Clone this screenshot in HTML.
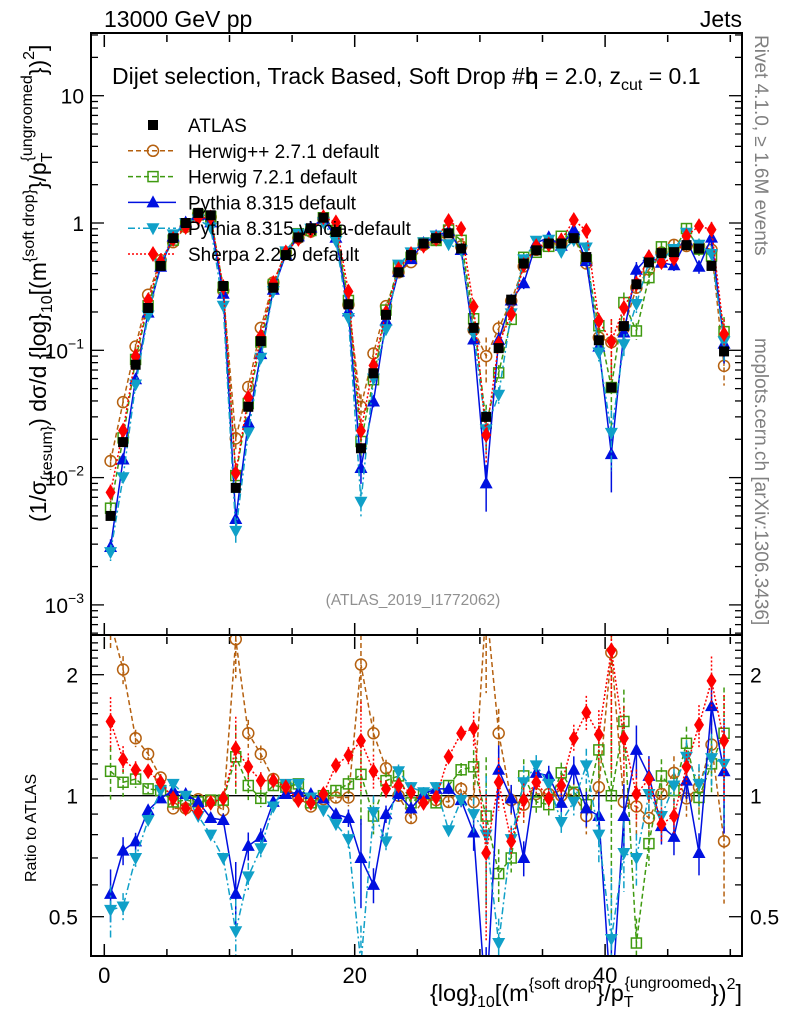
<!DOCTYPE html>
<html><head><meta charset="utf-8"><style>
html,body{margin:0;padding:0;width:786px;height:1024px;overflow:hidden;background:#fff}
svg{display:block;overflow:hidden;position:absolute;left:0;top:0;font-family:"Liberation Sans",sans-serif}
</style></head><body>
<svg id="c" width="786" height="1024" viewBox="0 0 786 1024">
<defs>
<clipPath id="cm"><rect x="91" y="33" width="651" height="602"/></clipPath>
<clipPath id="cr"><rect x="91" y="635" width="651" height="321"/></clipPath>
</defs>
<text x="104" y="27" font-size="23">13000 GeV pp</text>
<text x="742" y="27" font-size="23" text-anchor="end">Jets</text>
<text x="112" y="84" font-size="23">Dijet selection, Track Based, Soft Drop #b<tspan dx="-12">η = 2.0, z</tspan><tspan font-size="16" dy="6">cut</tspan><tspan dy="-6"> = 0.1</tspan></text>
<text x="413" y="605" font-size="15.5" fill="#909090" text-anchor="middle">(ATLAS_2019_I1772062)</text>
<text transform="translate(755,35) rotate(90)" font-size="19" fill="#808080">Rivet 4.1.0, ≥ 1.6M events</text>
<text transform="translate(755,338) rotate(90)" font-size="19" fill="#808080">mcplots.cern.ch [arXiv:1306.3436]</text>
<text transform="translate(46,522) rotate(-90)" font-size="23">(1/σ<tspan font-size="16" dy="6">{resum}</tspan><tspan dy="-6">) dσ/d {log}</tspan><tspan font-size="16" dy="6">10</tspan><tspan dy="-6">[(m</tspan><tspan font-size="16" dy="-12">{soft drop}</tspan><tspan dy="12">}/p</tspan><tspan font-size="16" dy="6">T</tspan><tspan font-size="16" dy="-20" dx="-9">{ungroomed</tspan><tspan dy="14">})</tspan><tspan font-size="16" dy="-12">2</tspan><tspan dy="12">]</tspan></text>
<text transform="translate(36,882) rotate(-90)" font-size="16">Ratio to ATLAS</text>
<text x="742" y="1001" font-size="23.5" text-anchor="end">{log}<tspan font-size="16" dy="6">10</tspan><tspan dy="-6">[(m</tspan><tspan font-size="16" dy="-12">{soft drop</tspan><tspan dy="12">}/p</tspan><tspan font-size="16" dy="6">T</tspan><tspan font-size="16" dy="-19" dx="-9">{ungroomed</tspan><tspan dy="13">})</tspan><tspan font-size="16" dy="-12">2</tspan><tspan dy="12">]</tspan></text>
<g id="axes"></g>
<g id="main" clip-path="url(#cm)"></g>
<g id="ratio" clip-path="url(#cr)"></g>
<g id="legend"></g>
<rect x="91" y="33" width="651" height="602" fill="none" stroke="#000" stroke-width="2"/>
<rect x="91" y="635" width="651" height="321" fill="none" stroke="#000" stroke-width="2"/>
</svg>
<script>
const atlas=[0.005,0.019,0.077,0.215,0.46,0.76,1.0,1.2,1.15,0.32,0.0083,0.036,0.118,0.31,0.56,0.77,0.91,1.1,0.85,0.23,0.017,0.066,0.19,0.41,0.56,0.69,0.76,0.83,0.63,0.15,0.03,0.104,0.25,0.48,0.61,0.69,0.69,0.76,0.54,0.12,0.051,0.155,0.33,0.49,0.58,0.59,0.67,0.63,0.46,0.098];
const rHerwigPP=[2.7,2.06,1.39,1.27,1.11,0.93,0.93,0.98,0.97,0.92,2.45,1.43,1.27,1.10,1.05,0.99,0.94,0.98,0.99,0.99,2.12,1.43,1.17,1.0,0.88,0.975,0.975,0.965,1.04,0.965,3.0,1.43,0.975,0.95,1.01,1.01,1.0,1.01,0.89,1.05,2.27,0.965,0.94,0.88,1.01,1.14,0.985,1.05,1.34,0.77];
const rHerwig7=[1.15,1.08,1.10,1.04,1.03,0.965,0.975,0.965,0.975,0.975,1.25,1.06,0.985,1.06,1.05,1.07,0.96,1.0,1.03,1.07,1.13,0.89,1.09,1.12,0.96,1.01,0.96,1.06,1.16,1.18,0.89,0.64,0.70,1.12,0.965,0.95,1.14,1.02,0.95,1.30,1.0,1.53,0.43,0.76,1.12,1.03,1.35,0.99,1.2,1.43];
const rPythia=[0.57,0.73,0.77,0.92,0.985,1.03,1.01,0.965,0.88,0.87,0.57,0.75,0.79,0.965,1.01,1.02,1.01,0.985,0.90,0.88,0.70,0.60,0.90,1.01,0.93,1.01,1.04,1.04,0.975,0.81,0.3,1.16,0.985,0.70,1.14,1.12,0.96,1.16,0.93,0.89,0.3,0.89,1.30,1.12,0.84,0.79,1.09,0.72,1.67,1.15];
const rVincia=[0.52,0.53,0.70,0.87,1.03,1.07,1.0,0.89,0.80,0.70,0.46,0.63,0.74,0.94,1.07,1.07,0.99,0.92,0.85,0.78,0.38,0.91,0.77,1.15,1.05,1.02,1.05,0.82,0.975,0.90,0.8,0.43,0.78,1.08,1.19,1.07,0.86,0.965,1.19,0.80,0.44,0.72,0.70,1.01,0.89,1.06,1.25,1.07,1.24,1.2];
const rSherpa=[1.53,1.23,1.16,1.15,1.08,0.985,0.93,0.91,0.96,0.985,1.31,1.18,1.09,1.09,1.05,0.975,0.96,1.01,1.19,1.26,1.37,1.15,1.04,1.06,1.02,0.96,0.99,1.25,1.43,1.47,0.72,1.08,0.77,0.975,1.08,0.985,1.06,1.39,1.61,1.42,2.3,1.39,1.01,1.10,0.85,0.89,1.18,1.50,1.93,1.37];
const relErr=[0.15,0.08,0.05,0.03,0.02,0.02,0.02,0.02,0.02,0.03,0.2,0.08,0.05,0.03,0.02,0.02,0.02,0.02,0.03,0.05,0.25,0.1,0.05,0.04,0.03,0.03,0.03,0.03,0.04,0.1,0.4,0.15,0.08,0.1,0.06,0.06,0.06,0.08,0.1,0.15,0.5,0.2,0.15,0.12,0.1,0.1,0.1,0.12,0.15,0.3];
const xTickLabels=[0,20,40];
const mainTickExps=[1,0,-1,-2,-3];
const ratioTickLabels=[2,1,0.5];

const NS="http://www.w3.org/2000/svg";
const X=v=>104.3+12.52*v;
const YM=v=>223-127.3*Math.log10(v);
const YR=v=>795.7-121*Math.log2(v);
const clampY=(y,lo,hi)=>Math.min(hi,Math.max(lo,y));
function el(tag,attrs,parent){const e=document.createElementNS(NS,tag);for(const k in attrs)e.setAttribute(k,attrs[k]);parent.appendChild(e);return e;}
const axes=document.getElementById('axes'),gm=document.getElementById('main'),gr=document.getElementById('ratio'),gl=document.getElementById('legend');

for(let v=0;v<=50;v+=5){const major=v%20===0;const L=major?12:7;
 [[35,635],[637,956]].forEach(([t,b])=>{
  let a=el('line',{x1:X(v),x2:X(v),y1:t,y2:t+L,stroke:'#000','stroke-width':1.5},axes);
  
  let c=el('line',{x1:X(v),x2:X(v),y1:b-L,y2:b,stroke:'#000','stroke-width':1.5},axes);
  });}
xTickLabels.forEach(v=>{const t=el('text',{x:X(v),y:983,'font-size':22,'text-anchor':'middle'},axes);t.textContent=v;
 });
for(let e=-4;e<=1;e++){for(let m=1;m<10;m++){const v=m*Math.pow(10,e);const y=YM(v);if(y<34||y>634)continue;const L=m===1?13:7;
 let a=el('line',{x1:91,x2:91+L,y1:y,y2:y,stroke:'#000','stroke-width':1.3},axes);
 let b=el('line',{x1:742-L,x2:742,y1:y,y2:y,stroke:'#000','stroke-width':1.3},axes);}}
mainTickExps.forEach(e=>{const y=YM(Math.pow(10,e))+8;let t;
 t=el('text',{x:84,y:y,'font-size':21,'text-anchor':'end'},axes);
 if(e===1){t.textContent='10';}
 else if(e===0){t.textContent='1';}
 else{const a=el('tspan',{},t);a.textContent='10';const s=el('tspan',{'font-size':14,dy:-10},t);s.textContent='−'+(-e);}
 });
[0.4,0.5,0.6,0.7,0.8,0.9,1,1.1,1.2,1.3,1.4,1.5,1.6,1.7,1.8,1.9,2,2.1,2.2,2.3,2.4,2.5].forEach(v=>{const y=YR(v);if(y<636||y>955)return;const L=(v===1||v===2||v===0.5)?13:7;
 let a=el('line',{x1:91,x2:91+L,y1:y,y2:y,stroke:'#000','stroke-width':1.3},axes);
 let b=el('line',{x1:742-L,x2:742,y1:y,y2:y,stroke:'#000','stroke-width':1.3},axes);});
ratioTickLabels.forEach(v=>{[[78,'end'],[750,'start']].forEach(([x,a])=>{const t=el('text',{x:x,y:YR(v)+8,'font-size':21,'text-anchor':a},axes);t.textContent=v;
 });});
const one=el('line',{x1:91,x2:742,y1:YR(1),y2:YR(1),stroke:'#000','stroke-width':1.3},axes);


function marker(g,kind,x,y,color){let m;
 if(kind==='sq')m=el('rect',{x:x-5,y:y-5,width:10,height:10,fill:'#000'},g);
 else if(kind==='osq')m=el('rect',{x:x-5,y:y-5,width:10,height:10,fill:'none',stroke:color,'stroke-width':1.5},g);
 else if(kind==='oc')m=el('circle',{cx:x,cy:y,r:5.5,fill:'none',stroke:color,'stroke-width':1.5},g);
 else if(kind==='tu')m=el('polygon',{points:`${x},${y-7} ${x-6.5},${y+5} ${x+6.5},${y+5}`,fill:color},g);
 else if(kind==='td')m=el('polygon',{points:`${x},${y+7} ${x-6.5},${y-5} ${x+6.5},${y-5}`,fill:color},g);
 else m=el('polygon',{points:`${x},${y-8} ${x-5},${y} ${x},${y+8} ${x+5},${y}`,fill:color},g);
 return m;}

const series=[
 {name:'herwigpp',label:'Herwig++ 2.7.1 default',r:rHerwigPP,color:'#b5600f',dash:'5,3',kind:'oc'},
 {name:'herwig7',label:'Herwig 7.2.1 default',r:rHerwig7,color:'#3f9a10',dash:'5,3',kind:'osq'},
 {name:'pythia',label:'Pythia 8.315 default',r:rPythia,color:'#0010e0',dash:'',kind:'tu'},
 {name:'vincia',label:'Pythia 8.315 vincia-default',r:rVincia,color:'#10a0c8',dash:'7,3,2,3',kind:'td'},
 {name:'sherpa',label:'Sherpa 2.2.9 default',r:rSherpa,color:'#ff0000',dash:'2,2',kind:'dm'}];

function drawSeries(g,vals,Y,s,panel,lo,hi){
 const pts=vals.map((v,i)=>X(i+0.5)+','+Y(v)).join(' ');
 const pl=el('polyline',{points:pts,fill:'none',stroke:s.color,'stroke-width':1.5,'stroke-dasharray':s.dash},g);
 
 vals.forEach((v,i)=>{const x=X(i+0.5),e=relErr[i];
  const eb=el('line',{x1:x,x2:x,y1:clampY(Y(v*(1+e)),lo,hi),y2:clampY(Y(v*(1-e)),lo,hi),stroke:s.color,'stroke-width':1.5,'stroke-dasharray':s.dash},g);
  
  const m=marker(g,s.kind,x,Y(v),s.color);
  });}

series.forEach(s=>{drawSeries(gm,atlas.map((a,i)=>a*s.r[i]),YM,s,'main',33,635);drawSeries(gr,s.r,YR,s,'ratio',635,956);});
atlas.forEach((v,i)=>{const x=X(i+0.5);const m=marker(gm,'sq',x,YM(v),'#000');
 });

const rows=[{label:'ATLAS',kind:'sq',color:'#000',dash:null}].concat(series);
rows.forEach((s,k)=>{const y=125+25.8*k;
 const g=el('g',{},gl);
 if(s.dash!==null){el('line',{x1:128,x2:176,y1:y,y2:y,stroke:s.color,'stroke-width':1.5,'stroke-dasharray':s.dash},g);}
 marker(g,s.kind,153,y,s.color);
 const t=el('text',{x:188,y:y+7,'font-size':19},g);t.textContent=s.label;});
</script>
</body></html>
